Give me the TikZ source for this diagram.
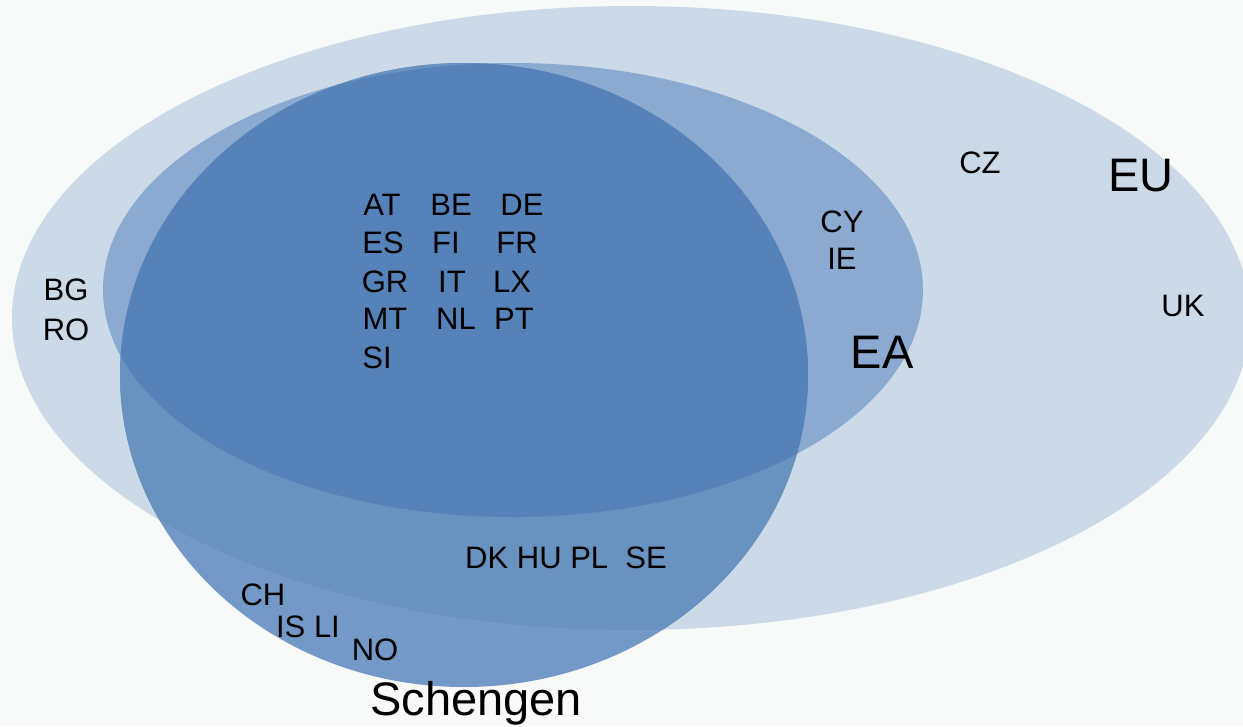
\documentclass[tikz,border=0pt]{standalone}
\usepackage{fontspec}
\setmainfont{Liberation Sans}
\definecolor{bgC}{HTML}{F8F9F9}
\definecolor{euC}{HTML}{CCD9E6}
\definecolor{eaC}{HTML}{8AAAD1}
\definecolor{schC}{HTML}{7399C8}
\definecolor{seuC}{HTML}{6892C0}
\definecolor{seaC}{HTML}{5582B8}
\tikzset{
  code/.style={anchor=base, inner sep=0pt, font=\fontsize{31}{37}\selectfont, text=black},
  biglabel/.style={anchor=base, inner sep=0pt, font=\fontsize{47}{56}\selectfont, text=black}
}
\begin{document}
\begin{tikzpicture}[x=1pt, y=-1pt]
\useasboundingbox (0,0) rectangle (1243,726);
\clip (0,0) rectangle (1243,726);
\fill[bgC] (0,0) rectangle (1243,726);
\def\eushape{(631,318) ellipse [x radius=619pt, y radius=312pt]}
\def\eashape{(513,290) ellipse [x radius=410pt, y radius=227pt]}
\def\schshape{(464,375) ellipse [x radius=344pt, y radius=312pt]}
\fill[euC] \eushape;
\fill[eaC] \eashape;
\fill[schC] \schshape;
\begin{scope}
  \clip \eushape;
  \fill[seuC] \schshape;
\end{scope}
\begin{scope}
  \clip \eashape;
  \fill[seaC] \schshape;
\end{scope}
% euro area and schengen core
\node[code] (at) at (382,215) {AT};
\node[code] (be) at (451,215) {BE};
\node[code] (de) at (522,215) {DE};
\node[code] (es) at (383,253) {ES};
\node[code] (fi) at (446,253) {FI};
\node[code] (fr) at (517,253) {FR};
\node[code] (gr) at (385,292) {GR};
\node[code] (it) at (452,292) {IT};
\node[code] (lx) at (512,292) {LX};
\node[code] (mt) at (385,329) {MT};
\node[code] (nl) at (456,329) {NL};
\node[code] (pt) at (514,329) {PT};
\node[code] (si) at (377,368) {SI};
% euro area only
\node[code] (cy) at (842,232) {CY};
\node[code] (ie) at (842,269) {IE};
% EU only
\node[code] (cz) at (980,173) {CZ};
\node[code] (uk) at (1183,316) {UK};
\node[code] (bg) at (66,300) {BG};
\node[code] (ro) at (66,340) {RO};
% EU and Schengen
\node[code] (dk) at (566,568) {DK HU PL\ \ SE};
% Schengen only
\node[code] (ch) at (263,605) {CH};
\node[code] (isli) at (308,637) {IS LI};
\node[code] (no) at (375,660) {NO};
% set labels
\node[biglabel] (eu) at (1141,191) {EU};
\node[biglabel] (ea) at (882,368) {EA};
\node[biglabel] (sch) at (476,715) {Schengen};
\end{tikzpicture}
\end{document}
